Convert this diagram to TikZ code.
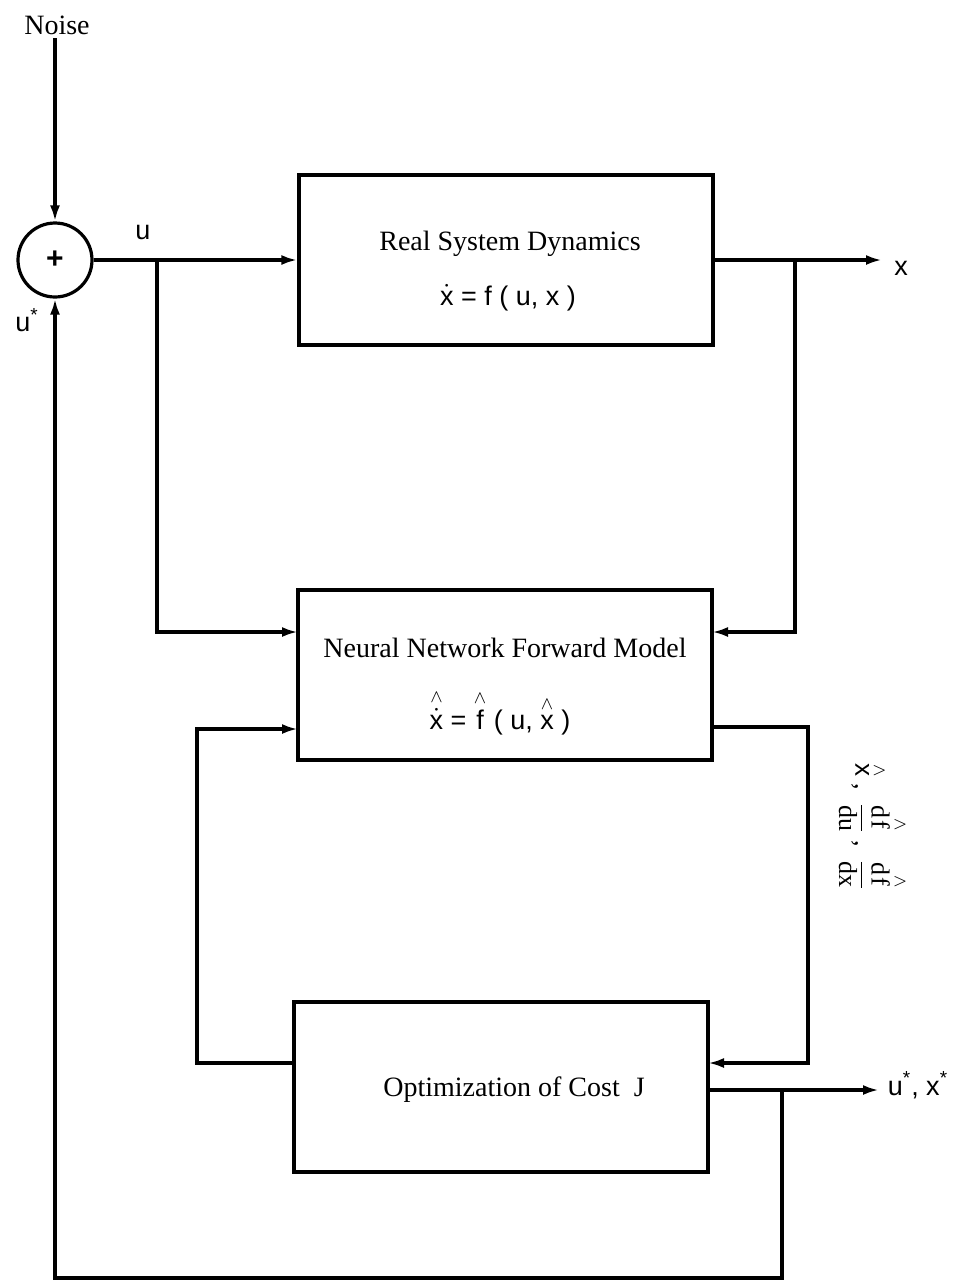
\documentclass[tikz,border=0pt]{standalone}
\usepackage{amsmath}
\usepackage{fontspec}
\setmainfont{Liberation Serif}
\setsansfont{Liberation Sans}
\usetikzlibrary{arrows,arrows.meta}
\newcommand{\hatup}[1]{\overset{\wedge}{#1}}

\begin{document}
\begin{tikzpicture}[x=0.5pt,y=-0.5pt,line width=1.6pt,>={Latex[length=8pt,width=5pt]}]
  \tikzset{
    blockbox/.style={draw,minimum width=207pt,minimum height=85pt,inner sep=0pt},
    sumnode/.style={draw,circle,minimum size=37pt,inner sep=0pt},
    titletext/.style={inner sep=1pt,font=\fontsize{14}{16}\selectfont},
    formtext/.style={inner sep=1pt,font=\sffamily\fontsize{13.5}{15}\selectfont},
    sigtext/.style={inner sep=1pt,font=\sffamily\fontsize{13.5}{15}\selectfont}
  }
  \useasboundingbox (0,0) rectangle (956,1287);

  % sum
  \node[titletext] (noise) at (57,25) {Noise};
  \node[sumnode,font=\sffamily\bfseries\fontsize{15}{15}\selectfont] (sum) at (55,260) {+};
  \draw[->] (noise.south -| sum) -- (sum);

  % blocks
  \node[blockbox] (rsd) at (506,260) {};
  \node[titletext] (rsdT) at (510,244) {Real System Dynamics};
  \node[formtext] (rsdF) at (508,298) {$\dot{\mathsf{x}}$ = f ( u, x )};

  \node[blockbox] (nn) at (505,675) {};
  \node[titletext] (nnT) at (505,648) {Neural Network Forward Model};
  \node[formtext] (nnF) at (500,712)
    {$\hatup{\dot{\mathsf{x}}}$ = $\hatup{\mathsf{f}}$ ( u, $\hatup{\mathsf{x}}$ )};

  \node[blockbox] (opt) at (501,1087) {};
  \node[titletext] (optT) at (514,1090) {Optimization of Cost\ \ J};

  % ports
  \path (157,260) coordinate (utap);
  \path (795,260) coordinate (xtap);
  \path (882,260) coordinate (xout);
  \path (298,632) coordinate (nnL1);
  \path (712,632) coordinate (nnR1);
  \path (298,729) coordinate (nnL2);
  \path (712,727) coordinate (nnR2);
  \path (808,1063) coordinate (cR);
  \path (197,1063) coordinate (cL);
  \path (708,1063) coordinate (optR1);
  \path (294,1063) coordinate (optL1);
  \path (708,1090) coordinate (optR2);
  \path (782,1090) coordinate (ftap);
  \path (879,1090) coordinate (uxout);
  \path (782,1278) coordinate (fb);

  % connectors
  \draw[->] (sum) -- (rsd);
  \draw[->] (rsd) -- (xout);
  \draw[->] (utap) |- (nnL1);
  \draw[->] (xtap) |- (nnR1);
  \draw[->] (nnR2) -| (cR) -- (optR1);
  \draw[->] (optL1) -- (cL) |- (nnL2);
  \draw[->] (optR2) -- (uxout);
  \draw[->] (ftap) -- (fb) -| (sum);

  % labels
  \node[sigtext] (ulab) at (143,232) {u};
  \node[sigtext] (ustar) at (27,320) {u\textsuperscript{*}};
  \node[sigtext] (xlab) at (901,268) {x};
  \node[sigtext] (uxlab) at (918,1085) {u\textsuperscript{*}, x\textsuperscript{*}};
  \node[rotate=-90,font=\fontsize{13}{15}\selectfont] (grad) at (873,827)
    {$\hatup{\mathsf{x}}$ ,\ \ $\dfrac{\mathrm{d}\hatup{\mathrm{f}}}{\mathrm{du}}$ ,\ \
     $\dfrac{\mathrm{d}\hatup{\mathrm{f}}}{\mathrm{dx}}$};

\end{tikzpicture}
\end{document}
